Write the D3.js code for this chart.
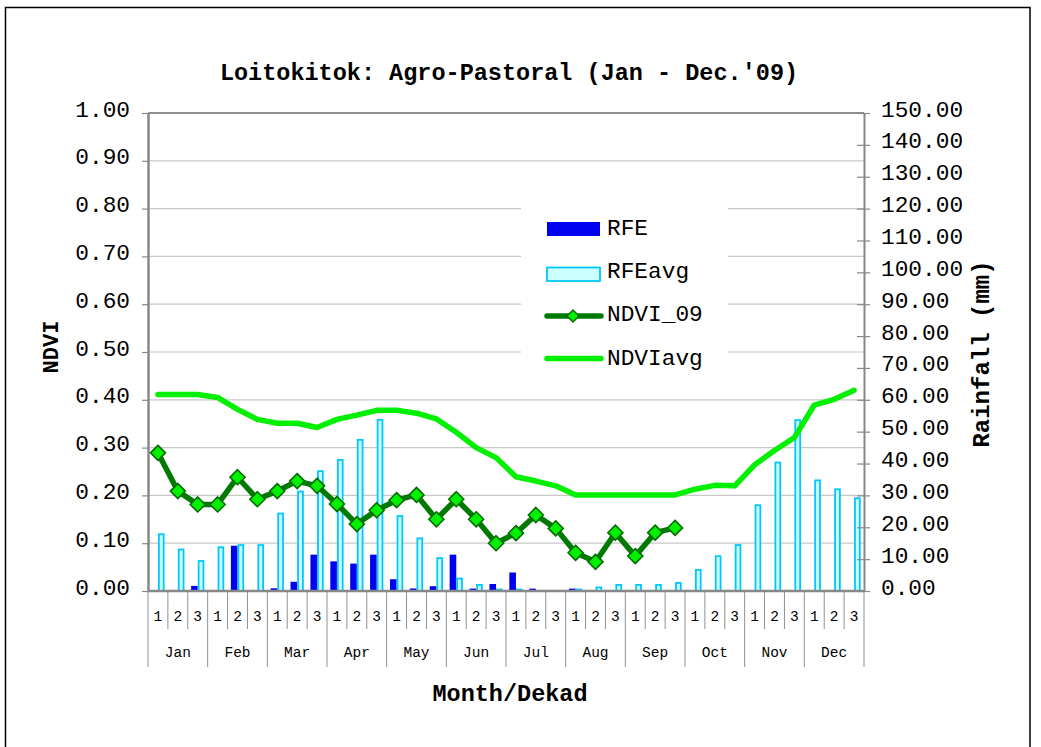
<!DOCTYPE html>
<html>
<head>
<meta charset="utf-8">
<script src="https://cdn.jsdelivr.net/npm/d3@7"></script>
<style>
  html, body { margin: 0; padding: 0; background: #fff; }
  svg { display: block; }
  text { font-family: "Liberation Mono", "DejaVu Sans Mono", monospace; fill: #000; }
</style>
</head>
<body>
<svg id="chart" width="1041" height="747"></svg>
<script>
// ---------- DATA ----------
const months = ["Jan","Feb","Mar","Apr","May","Jun","Jul","Aug","Sep","Oct","Nov","Dec"];
const dekadLabels = ["1","2","3"];

// Rainfall estimate 2009 (mm)
const rfe = [0, 0, 1.6,  0, 14.2, 0,  0.85, 2.9, 11.4,  9.3, 8.6, 11.4,
             3.7, 0.8, 1.5,  11.4, 0.75, 2.2,  5.8, 0.75, 0,  0.75, 0, 0,
             0, 0, 0,  0, 0, 0,  0, 0, 0,  0, 0, 0];
// Average rainfall (mm)
const rfeAvg = [18.1, 13.3, 9.7,  14.0, 14.7, 14.7,  24.6, 31.5, 37.9,  41.4, 47.7, 54.0,
                23.8, 16.8, 10.6,  4.2, 2.2, 0.75,  0.75, 0, 0,  0.75, 1.4, 2.2,
                2.2, 2.2, 2.8,  6.9, 11.2, 14.7,  27.2, 40.6, 53.9,  35.0, 32.2, 29.4];
// NDVI 2009 (Jan - Sep)
const ndvi09 = [0.289, 0.209, 0.181,  0.181, 0.238, 0.192,  0.209, 0.230, 0.220,
                0.182, 0.140, 0.169,  0.190, 0.201, 0.150,  0.192, 0.150, 0.100,
                0.121, 0.159, 0.131,  0.080, 0.061, 0.122,  0.073, 0.122, 0.132];
// NDVI average
const ndviAvg = [0.411, 0.411, 0.411,  0.405, 0.380, 0.359,  0.351, 0.351, 0.342,
                 0.359, 0.368, 0.378,  0.378, 0.372, 0.360,  0.332, 0.300, 0.279,
                 0.239, 0.230, 0.220,  0.201, 0.201, 0.201,  0.201, 0.201, 0.201,
                 0.213, 0.221, 0.220,  0.264, 0.294, 0.321,  0.389, 0.401, 0.420];

const ndviTicks = d3.range(0, 11).map(d => d / 10);
const rainTicks = d3.range(0, 16).map(d => d * 10);

// ---------- LAYOUT ----------
const svg = d3.select("#chart");
const L = 148, R = 864, T = 113, B = 591;

const keys = [];
months.forEach(m => dekadLabels.forEach(d => keys.push(m + "-" + d)));

const x = d3.scaleBand().domain(keys).range([L, R]).padding(0);
const xSeries = d3.scaleBand().domain(["RFE", "RFEavg"]).range([0, x.bandwidth()])
  .paddingInner(0).paddingOuter(0.5);
const yL = d3.scaleLinear().domain([0, 1]).range([B, T]);
const yR = d3.scaleLinear().domain([0, 150]).range([B, T]);

// background
svg.append("rect").attr("width", 1041).attr("height", 747).attr("fill", "#fff");
// outer border
svg.append("rect").attr("x", 5.5).attr("y", 7.5).attr("width", 1024.5).attr("height", 760)
  .attr("fill", "none").attr("stroke", "#000").attr("stroke-width", 1.5);

// title
svg.append("text").attr("x", 509).attr("y", 80).attr("text-anchor", "middle")
  .style("font-size", "23.5px").style("font-weight", "bold")
  .text("Loitokitok: Agro-Pastoral (Jan - Dec.'09)");

// gridlines
svg.append("g").selectAll("line").data(ndviTicks.filter(d => d > 0)).join("line")
  .attr("x1", L).attr("x2", R)
  .attr("y1", d => yL(d)).attr("y2", d => yL(d))
  .attr("stroke", d => d === 1 ? "#909090" : "#c8c8c8")
  .attr("stroke-width", d => d === 1 ? 2 : 1.2);

// bars
const bw = xSeries.bandwidth();
svg.append("g").selectAll("rect").data(rfe).join("rect")
  .attr("x", (d, i) => x(keys[i]) + xSeries("RFE"))
  .attr("width", bw)
  .attr("y", d => yR(d))
  .attr("height", d => B - yR(d))
  .attr("fill", "#0000f0");
svg.append("g").selectAll("rect").data(rfeAvg).join("rect")
  .attr("display", d => d > 0 ? null : "none")
  .attr("x", (d, i) => x(keys[i]) + xSeries("RFEavg") + 0.9)
  .attr("width", bw - 1.8)
  .attr("y", d => yR(d) + 0.9)
  .attr("height", d => Math.max(0, B - yR(d) - 0.9))
  .attr("fill", "#ccffff").attr("stroke", "#00c8ff").attr("stroke-width", 1.8);

// left axis
const axL = svg.append("g").attr("transform", `translate(${L},0)`)
  .call(d3.axisLeft(yL).tickValues(ndviTicks).tickFormat(d3.format(".2f"))
    .tickSize(6).tickSizeOuter(0).tickPadding(12));
axL.select(".domain").attr("stroke", "#888").attr("stroke-width", 2.5);
axL.selectAll(".tick line").attr("stroke", "#888").attr("stroke-width", 1.2);
axL.selectAll(".tick text").style("font-size", "22.8px").attr("dy", "3px")
  .style("font-family", "Liberation Mono").attr("fill", "#111");

// right axis
const axR = svg.append("g").attr("transform", `translate(${R},0)`)
  .call(d3.axisRight(yR).tickValues(rainTicks).tickFormat(d3.format(".2f"))
    .tickSize(6).tickSizeOuter(0).tickPadding(11));
axR.select(".domain").attr("stroke", "#888").attr("stroke-width", 2);
axR.selectAll(".tick line").attr("x1", -7).attr("stroke", "#888").attr("stroke-width", 1.2);
axR.selectAll(".tick text").style("font-size", "22.8px").attr("dy", "3px")
  .style("font-family", "Liberation Mono").attr("fill", "#111");

// x axis: dekad separators & labels
const gx = svg.append("g");
keys.forEach((k, i) => {
  const isMonthStart = i % 3 === 0;
  gx.append("line").attr("x1", x(k)).attr("x2", x(k)).attr("y1", B).attr("y2", isMonthStart ? 667 : 629)
    .attr("stroke", "#909090").attr("stroke-width", 1);
  gx.append("text").attr("x", x(k) + x.bandwidth() / 2).attr("y", 621)
    .attr("text-anchor", "middle").style("font-size", "14.5px").text(dekadLabels[i % 3]);
});
gx.append("line").attr("x1", R).attr("x2", R).attr("y1", B).attr("y2", 667)
  .attr("stroke", "#909090").attr("stroke-width", 1);
months.forEach((m, j) => {
  const x0 = x(keys[j * 3]), x1 = x(keys[j * 3 + 2]) + x.bandwidth();
  gx.append("text").attr("x", (x0 + x1) / 2).attr("y", 657)
    .attr("text-anchor", "middle").style("font-size", "14.5px").text(m);
});
gx.append("line").attr("x1", L).attr("x2", R).attr("y1", B).attr("y2", B)
  .attr("stroke", "#888").attr("stroke-width", 2.5);

// axis titles
svg.append("text").attr("transform", "translate(58,347) rotate(-90)").attr("text-anchor", "middle")
  .style("font-size", "22px").style("font-weight", "bold").text("NDVI");
svg.append("text").attr("transform", "translate(989,354) rotate(-90)").attr("text-anchor", "middle")
  .style("font-size", "24px").style("font-weight", "bold").text("Rainfall (mm)");
svg.append("text").attr("x", 510).attr("y", 701).attr("text-anchor", "middle")
  .style("font-size", "23.5px").style("font-weight", "bold").text("Month/Dekad");

// lines
const cx = i => x(keys[i]) + x.bandwidth() / 2;
const lineAvg = d3.line().x((d, i) => cx(i)).y(d => yL(d));
svg.append("path").datum(ndviAvg).attr("d", lineAvg)
  .attr("fill", "none").attr("stroke", "#00f000").attr("stroke-width", 5.5)
  .attr("stroke-linejoin", "round").attr("stroke-linecap", "round");
svg.append("path").datum(ndvi09).attr("d", lineAvg)
  .attr("fill", "none").attr("stroke", "#007a00").attr("stroke-width", 5.5)
  .attr("stroke-linejoin", "round");
const diamond = "M0,-7.5L7.5,0L0,7.5L-7.5,0Z";
svg.append("g").selectAll("path").data(ndvi09).join("path")
  .attr("transform", (d, i) => `translate(${cx(i)},${yL(d)})`)
  .attr("d", diamond).attr("fill", "#00f000").attr("stroke", "#006a00").attr("stroke-width", 1.6);

// legend
const lg = svg.append("g");
lg.append("rect").attr("x", 521).attr("y", 200).attr("width", 207).attr("height", 185).attr("fill", "#fff");
lg.append("rect").attr("x", 547).attr("y", 222).attr("width", 53).attr("height", 14)
  .attr("fill", "#0000f0");
lg.append("rect").attr("x", 547).attr("y", 267.5).attr("width", 53).attr("height", 13.5)
  .attr("fill", "#ccffff").attr("stroke", "#00c8ff").attr("stroke-width", 1.8);
lg.append("line").attr("x1", 547).attr("x2", 601).attr("y1", 316).attr("y2", 316)
  .attr("stroke", "#007a00").attr("stroke-width", 5.5).attr("stroke-linecap", "round");
lg.append("path").attr("transform", "translate(573,316)").attr("d", "M0,-6L6,0L0,6L-6,0Z")
  .attr("fill", "#00f000").attr("stroke", "#006a00").attr("stroke-width", 1.4);
lg.append("line").attr("x1", 547).attr("x2", 601).attr("y1", 358.5).attr("y2", 358.5)
  .attr("stroke", "#00f000").attr("stroke-width", 5.5).attr("stroke-linecap", "round");
const legTexts = ["RFE", "RFEavg", "NDVI_09", "NDVIavg"];
const legY = [234.5, 277.5, 321, 364.5];
legTexts.forEach((t, i) => {
  lg.append("text").attr("x", 607).attr("y", legY[i]).style("font-size", "22.8px").text(t);
});
</script>
</body>
</html>
